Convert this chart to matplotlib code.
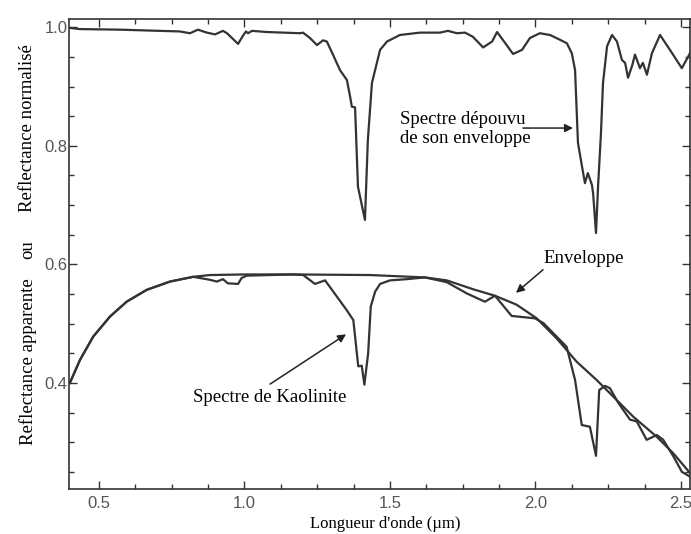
import matplotlib
matplotlib.use("Agg")
import matplotlib.pyplot as plt
from matplotlib.ticker import MultipleLocator

# continuum removed spectrum (upper curve)
wl_norm = [0.400, 0.434, 0.572, 0.778, 0.813, 0.840, 0.871, 0.899, 0.926, 0.940,
           0.978, 0.995, 1.005, 1.012, 1.026, 1.077, 1.191, 1.201, 1.225, 1.249,
           1.270, 1.283, 1.304, 1.328, 1.352, 1.363, 1.369, 1.380, 1.390, 1.414,
           1.424, 1.438, 1.466, 1.490, 1.534, 1.603, 1.672, 1.699, 1.730, 1.758,
           1.785, 1.820, 1.851, 1.868, 1.895, 1.923, 1.954, 1.981, 2.015, 2.050,
           2.084, 2.108, 2.125, 2.136, 2.146, 2.160, 2.170, 2.180, 2.194, 2.198,
           2.208, 2.215, 2.225, 2.232, 2.246, 2.263, 2.280, 2.297, 2.308, 2.318,
           2.332, 2.342, 2.359, 2.369, 2.383, 2.400, 2.428, 2.462, 2.503, 2.534]
refl_norm = [0.999, 0.997, 0.996, 0.993, 0.990, 0.996, 0.991, 0.988, 0.994, 0.990,
             0.972, 0.986, 0.993, 0.990, 0.994, 0.992, 0.990, 0.991, 0.982, 0.970,
             0.978, 0.976, 0.954, 0.928, 0.911, 0.883, 0.866, 0.865, 0.731, 0.675,
             0.810, 0.906, 0.962, 0.976, 0.987, 0.991, 0.991, 0.994, 0.990, 0.991,
             0.984, 0.966, 0.976, 0.992, 0.974, 0.955, 0.962, 0.982, 0.990, 0.987,
             0.979, 0.973, 0.956, 0.928, 0.805, 0.765, 0.737, 0.754, 0.734, 0.720,
             0.653, 0.731, 0.821, 0.906, 0.968, 0.987, 0.976, 0.945, 0.940, 0.915,
             0.935, 0.954, 0.931, 0.940, 0.920, 0.956, 0.987, 0.962, 0.931, 0.959]

# envelope (convex hull)
wl_env = [0.400, 0.435, 0.480, 0.538, 0.595, 0.664, 0.744, 0.824, 0.881, 1.002,
          1.168, 1.431, 1.620, 1.695, 1.786, 1.861, 1.935, 2.004, 2.073, 2.141,
          2.210, 2.267, 2.336, 2.417, 2.474, 2.531]
refl_env = [0.400, 0.439, 0.478, 0.512, 0.537, 0.557, 0.571, 0.579, 0.582, 0.583,
            0.583, 0.582, 0.578, 0.573, 0.558, 0.547, 0.532, 0.509, 0.475, 0.436,
            0.405, 0.377, 0.343, 0.309, 0.281, 0.248]

# kaolinite apparent reflectance
wl_kao = [0.400, 0.435, 0.480, 0.538, 0.595, 0.664, 0.744, 0.824, 0.881, 0.905,
          0.926, 0.943, 0.978, 0.990, 1.008, 1.168, 1.202, 1.242, 1.277, 1.317,
          1.351, 1.374, 1.391, 1.403, 1.412, 1.425, 1.434, 1.449, 1.466, 1.500,
          1.557, 1.620, 1.695, 1.764, 1.826, 1.861, 1.918, 1.998, 2.027, 2.061,
          2.107, 2.136, 2.159, 2.187, 2.208, 2.219, 2.239, 2.256, 2.285, 2.325,
          2.348, 2.382, 2.417, 2.439, 2.474, 2.503, 2.534]
refl_kao = [0.400, 0.439, 0.478, 0.512, 0.537, 0.557, 0.571, 0.579, 0.574, 0.571,
            0.575, 0.568, 0.567, 0.577, 0.581, 0.583, 0.582, 0.567, 0.573, 0.546,
            0.523, 0.506, 0.428, 0.429, 0.397, 0.450, 0.529, 0.554, 0.567, 0.573,
            0.575, 0.578, 0.570, 0.551, 0.537, 0.547, 0.513, 0.509, 0.501, 0.484,
            0.461, 0.405, 0.329, 0.326, 0.277, 0.388, 0.395, 0.391, 0.366, 0.338,
            0.335, 0.304, 0.312, 0.304, 0.276, 0.250, 0.241]

line_col = '#333333'
serif = 'Liberation Serif'

fig = plt.figure(figsize=(6.91, 5.34), dpi=100)
ax = fig.add_axes([69/691, 1-489/534, 621/691, 470/534])

ax.plot(wl_norm, refl_norm, color=line_col, lw=1.6)
ax.plot(wl_env, refl_env, color=line_col, lw=1.6)
ax.plot(wl_kao, refl_kao, color=line_col, lw=1.6)

ax.set_xlim(0.397, 2.531)
ax.set_ylim(0.221, 1.014)
ax.xaxis.set_major_locator(MultipleLocator(0.5))
ax.xaxis.set_minor_locator(MultipleLocator(0.125))
ax.yaxis.set_major_locator(MultipleLocator(0.2))
ax.yaxis.set_minor_locator(MultipleLocator(0.05))
ax.tick_params(which='both', direction='in', top=True, right=True,
               color=line_col, width=1)
ax.tick_params(which='major', length=6)
ax.tick_params(which='minor', length=3.5)
ax.tick_params(axis='x', pad=5)
ax.tick_params(axis='y', pad=1)
for lab in ax.get_xticklabels() + ax.get_yticklabels():
    lab.set_fontfamily('Liberation Sans')
    lab.set_fontsize(12)
    lab.set_color('#555555')
for sp in ax.spines.values():
    sp.set_color(line_col)
    sp.set_linewidth(1.2)

# annotations
arrow = dict(arrowstyle='-|>', color='#222222', lw=1.1, mutation_scale=12,
             shrinkA=0, shrinkB=0)
ax.text(1.534, 0.829, "Spectre dépouvu\nde son enveloppe", family=serif,
        fontsize=13.5, ha='left', va='center', linespacing=1.15)
ax.annotate("", xy=(2.129, 0.830), xytext=(1.957, 0.830), arrowprops=arrow)

ax.text(2.026, 0.595, "Enveloppe", family=serif, fontsize=13.5,
        ha='left', va='bottom')
ax.annotate("", xy=(1.933, 0.552), xytext=(2.026, 0.591), arrowprops=arrow)

ax.text(1.085, 0.376, "Spectre de Kaolinite", family=serif, fontsize=13.5,
        ha='center', va='center')
ax.annotate("", xy=(1.349, 0.482), xytext=(1.088, 0.398), arrowprops=arrow)

# axis titles
fig.text(0.557, 0.019, "Longueur d'onde (µm)", family=serif, fontsize=12,
         ha='center', va='center')
fig.text(0.0405, 0.761, "Reflectance normalisé", family=serif, fontsize=13.5,
         rotation=90, ha='center', va='center')
fig.text(0.0405, 0.532, "ou", family=serif, fontsize=13.5,
         rotation=90, ha='center', va='center')
fig.text(0.0405, 0.322, "Reflectance apparente", family=serif, fontsize=13.5,
         rotation=90, ha='center', va='center')

plt.savefig("out.png", dpi=100)
